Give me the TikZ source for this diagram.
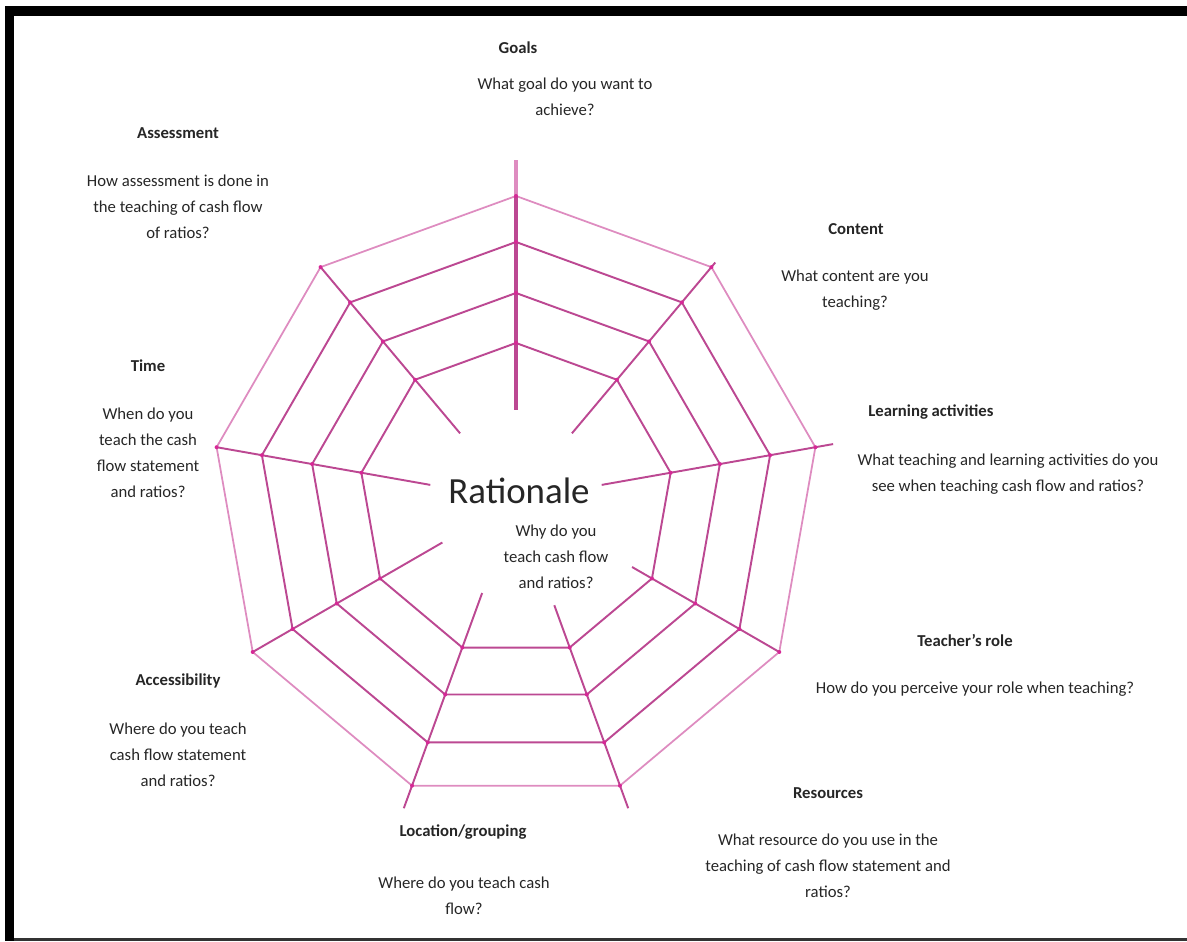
\documentclass[tikz,border=0pt]{standalone}
\usepackage{fontspec}
\setmainfont{Carlito}
\definecolor{webpink}{RGB}{188,72,146}
\definecolor{webknot}{RGB}{214,40,150}
\definecolor{webfaint}{RGB}{222,140,192}
\definecolor{inkgray}{RGB}{38,38,38}
\tikzset{
    web/.style={webpink, line width=1.1pt},
    rim/.style={webfaint, line width=1pt},
    title/.style={font=\fontsize{9.5}{14.7}\selectfont\bfseries, text=inkgray, inner sep=0pt},
    ask/.style={font=\fontsize{9.5}{14.7}\selectfont, text=inkgray, align=center, inner sep=0pt}
}
\begin{document}
\begin{tikzpicture}[x=0.02cm,y=0.02cm]
    \useasboundingbox (0,0) rectangle (1187,941);
    \fill (5,925) rectangle (1187,935);
    \fill (5,0) rectangle (14,935);
    \fill[black!80] (14,0) rectangle (1187,3);

    \begin{scope}[shift={(516,441)}]
        \foreach \r in {157,207,258}{
            \draw[web] (90:\r) \foreach \a in {130,170,...,410}{ -- (\a:\r)} -- cycle;
        }
        \draw[rim] (90:304) \foreach \a in {130,170,...,410}{ -- (\a:304)} -- cycle;
        \foreach \a/\i/\o in {50/87/310,10/87/322,330/134/304,290/112/328,250/99/328,210/85/304,170/87/304,130/87/304}{
            \draw[web] (\a:\i) -- (\a:\o);
        }
        \draw[web, line width=2pt] (90:90) -- (90:304);
        \draw[rim, line width=2pt] (90:304) -- (90:340);
        \foreach \r in {157,207,258,304}{
            \foreach \a in {90,130,...,410}{
                \fill[webknot] (\a:\r) circle (2);
            }
        }
    \end{scope}

    \node[title] (goals) at (518,893) {Goals};
    \node[ask] (goalsq) at (565,844.5) {What goal do you want to\\achieve?};
    \node[title] (assess) at (178,808) {Assessment};
    \node[ask] (assessq) at (178,734.5) {How assessment is done in\\the teaching of cash flow\\of ratios?};
    \node[title] (content) at (856,712) {Content};
    \node[ask] (contentq) at (855,651) {What content are you\\teaching?};
    \node[title, anchor=west] (learn) at (868,529) {Learning activities};
    \node[ask] (learnq) at (1008,467) {What teaching and learning activities do you\\see when teaching cash flow and ratios?};
    \node[title] (time) at (148,575) {Time};
    \node[ask] (timeq) at (148,488) {When do you\\teach the cash\\flow statement\\and ratios?};
    \node[font=\fontsize{21}{25}\selectfont, text=inkgray] (rationale) at (519,450) {Rationale};
    \node[ask] (rationaleq) at (556,384) {Why do you\\teach cash flow\\and ratios?};
    \node[title] (teacher) at (965,301) {Teacher’s role};
    \node[ask] (teacherq) at (975,252) {How do you perceive your role when teaching?};
    \node[title] (access) at (178,260) {Accessibility};
    \node[ask] (accessq) at (178,186.5) {Where do you teach\\cash flow statement\\and ratios?};
    \node[title] (resources) at (828,148) {Resources};
    \node[ask] (resourcesq) at (828,75.5) {What resource do you use in the\\teaching of cash flow statement and\\ratios?};
    \node[title] (location) at (463,109) {Location/grouping};
    \node[ask] (locationq) at (464,45) {Where do you teach cash\\flow?};
\end{tikzpicture}
\end{document}
